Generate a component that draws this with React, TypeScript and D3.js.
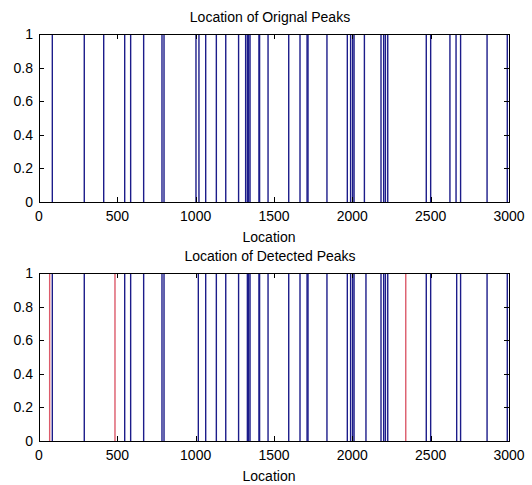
import { useEffect, useRef } from 'react'
import * as d3 from 'd3'

// peak locations
const originalPeaks = [
  85, 289, 413, 547, 585, 668, 785, 798, 1002, 1021, 1064, 1132, 1192, 1274,
  1319, 1330, 1338, 1347, 1404, 1408, 1462, 1594, 1666, 1711, 1717, 1838,
  1968, 1989, 2002, 2011, 2077, 2183, 2200, 2211, 2226, 2472, 2500, 2623,
  2662, 2691, 2860, 2989,
]
const detectedPeaks = [
  85, 289, 547, 585, 668, 785, 798, 1017, 1064, 1132, 1192, 1274, 1330, 1338,
  1347, 1404, 1408, 1462, 1594, 1666, 1711, 1717, 1838, 1968, 1989, 2002,
  2011, 2087, 2183, 2200, 2211, 2226, 2472, 2500, 2666, 2691, 2860, 2989,
]
// detections that are not real peaks (drawn red)
const falsePeaks = [68, 485, 2341]

const xTicks = [0, 500, 1000, 1500, 2000, 2500, 3000]
const yTicks = [0, 0.2, 0.4, 0.6, 0.8, 1]

const W = 532
const H = 485
const FONT = '"Liberation Sans", Arial, sans-serif'

export default function App() {
  const ref = useRef(null)

  useEffect(() => {
    const svg = d3.select(ref.current)
    svg.selectAll('*').remove()

    const left = 39
    const right = 509
    const x = d3.scaleLinear().domain([0, 3000]).range([left, right])

    const panels = [
      { title: 'Location of Orignal Peaks', top: 34, bottom: 202, blue: originalPeaks, red: [] },
      { title: 'Location of Detected Peaks', top: 273, bottom: 441, blue: detectedPeaks, red: falsePeaks },
    ]

    panels.forEach((p) => {
      const y = d3.scaleLinear().domain([0, 1]).range([p.bottom, p.top])
      const g = svg.append('g')

      g.selectAll('line.blue').data(p.blue).enter().append('line')
        .attr('x1', d => x(d)).attr('x2', d => x(d))
        .attr('y1', y(0)).attr('y2', y(1))
        .attr('stroke', '#1c1c8a').attr('stroke-width', 1.4)

      g.selectAll('line.red').data(p.red).enter().append('line')
        .attr('x1', d => x(d)).attr('x2', d => x(d))
        .attr('y1', y(0)).attr('y2', y(1))
        .attr('stroke', '#dc5a6a').attr('stroke-width', 1.4)

      // box
      g.append('rect')
        .attr('x', left + 0.5).attr('y', p.top + 0.5)
        .attr('width', right - left).attr('height', p.bottom - p.top)
        .attr('fill', 'none').attr('stroke', '#000').attr('stroke-width', 1)

      // ticks inward on all four sides
      const tl = 5
      xTicks.forEach((t) => {
        const xx = Math.round(x(t)) + 0.5
        g.append('line').attr('x1', xx).attr('x2', xx).attr('y1', p.bottom).attr('y2', p.bottom - tl).attr('stroke', '#000')
        g.append('line').attr('x1', xx).attr('x2', xx).attr('y1', p.top).attr('y2', p.top + tl).attr('stroke', '#000')
        g.append('text')
          .attr('x', x(t)).attr('y', p.bottom + 19)
          .attr('text-anchor', 'middle')
          .style('font-family', FONT).style('font-size', '14px')
          .text(t)
      })
      yTicks.forEach((t) => {
        const yy = Math.round(y(t)) + 0.5
        g.append('line').attr('x1', left).attr('x2', left + tl).attr('y1', yy).attr('y2', yy).attr('stroke', '#000')
        g.append('line').attr('x1', right).attr('x2', right - tl).attr('y1', yy).attr('y2', yy).attr('stroke', '#000')
        g.append('text')
          .attr('x', left - 6).attr('y', y(t) + 5)
          .attr('text-anchor', 'end')
          .style('font-family', FONT).style('font-size', '14px')
          .text(t === 0 || t === 1 ? String(t) : t.toFixed(1))
      })

      g.append('text')
        .attr('x', 270).attr('y', p.top - 12)
        .attr('text-anchor', 'middle')
        .style('font-family', FONT).style('font-size', '14px')
        .text(p.title)

      g.append('text')
        .attr('x', 269).attr('y', p.bottom + 40)
        .attr('text-anchor', 'middle')
        .style('font-family', FONT).style('font-size', '14px')
        .text('Location')
    })
  }, [])

  return (
    <svg
      ref={ref}
      width={W}
      height={H}
      style={{ position: 'absolute', left: 0, top: 0, background: '#fff', display: 'block' }}
    />
  )
}
